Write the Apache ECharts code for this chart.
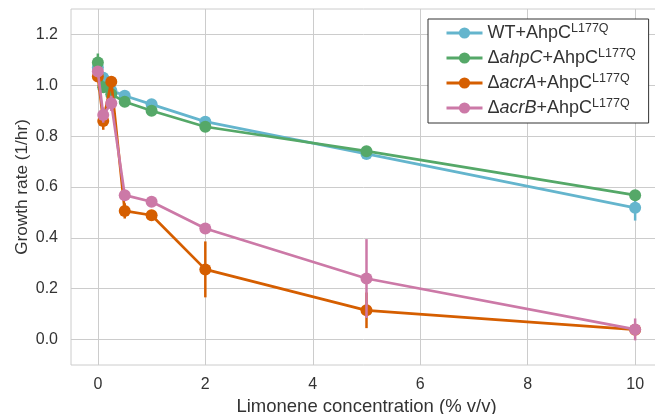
<!DOCTYPE html>
<html>
<head>
<meta charset="utf-8">
<script src="https://cdn.jsdelivr.net/npm/echarts@6/dist/echarts.min.js"></script>
<style>
  html, body { margin: 0; padding: 0; background: #fff; }
  #chart { width: 655px; height: 414px; }
</style>
</head>
<body>
<div id="chart"></div>
<script>
// limonene concentration (% v/v)
const concentrations = [0, 0.1, 0.25, 0.5, 1, 2, 5, 10];

// growth rate (1/hr) and error bars for each strain
const wtRate   = [1.07, 1.03, 0.98, 0.959, 0.925, 0.857, 0.73, 0.518];
const wtErr    = [0.02, 0.02, 0.02, 0.015, 0.015, 0.015, 0.02, 0.05];
const ahpCRate = [1.09, 0.992, 0.965, 0.935, 0.9, 0.837, 0.741, 0.568];
const ahpCErr  = [0.035, 0.02, 0.02, 0.015, 0.015, 0.015, 0.02, 0.02];
const acrARate = [1.035, 0.86, 1.014, 0.506, 0.489, 0.276, 0.115, 0.039];
const acrAErr  = [0.02, 0.035, 0.02, 0.03, 0.02, 0.11, 0.07, 0.02];
const acrBRate = [1.054, 0.883, 0.929, 0.568, 0.542, 0.437, 0.24, 0.04];
const acrBErr  = [0.02, 0.03, 0.03, 0.02, 0.02, 0.015, 0.155, 0.043];

const strainNames = ['WT', 'ahpC', 'acrA', 'acrB'];
const strainColors = ['#64b5cd', '#55a868', '#d55e00', '#cc79a7'];
const legendLabels = {
  WT: '{n|WT+AhpC}{s|L177Q}',
  ahpC: '{n|Δ}{i|ahpC}{n|+AhpC}{s|L177Q}',
  acrA: '{n|Δ}{i|acrA}{n|+AhpC}{s|L177Q}',
  acrB: '{n|Δ}{i|acrB}{n|+AhpC}{s|L177Q}'
};

const rates = [wtRate, ahpCRate, acrARate, acrBRate];
const errs = [wtErr, ahpCErr, acrAErr, acrBErr];

const font = 'Liberation Sans, Arial, sans-serif';
const grey = '#cccccc';
const none = 'rgba(0,0,0,0)';

let chart = echarts.init(document.getElementById('chart'));

const series = [];
strainNames.forEach((name, k) => {
  series.push({
    type: 'line',
    name: name,
    z: 3 + k * 2,
    data: concentrations.map((c, i) => [c, rates[k][i]]),
    symbol: 'circle',
    symbolSize: 12,
    showAllSymbol: true,
    lineStyle: {width: 2.7, color: strainColors[k]},
    itemStyle: {color: strainColors[k]},
    emphasis: {disabled: true}
  });
  // error bars
  series.push({
    type: 'custom',
    name: name + ' err',
    z: 2 + k * 2,
    silent: true,
    data: concentrations.map((c, i) => [c, rates[k][i], errs[k][i]]),
    renderItem: function (params, api) {
      const x = api.value(0), y = api.value(1), e = api.value(2);
      const p1 = api.coord([x, y - e]);
      const p2 = api.coord([x, y + e]);
      return {
        type: 'line',
        shape: {x1: p1[0], y1: p1[1], x2: p2[0], y2: p2[1]},
        style: {stroke: strainColors[k], lineWidth: 2.5}
      };
    }
  });
});

const option = {
  animation: false,
  color: strainColors,
  grid: {
    left: 71, top: 9, width: 591, height: 356,
    outerBoundsMode: 'none',
    containLabel: false,
    show: true, borderColor: grey, borderWidth: 1, backgroundColor: '#fff'
  },
  xAxis: {
    type: 'value',
    min: -0.5, max: 10.5, interval: 0.5,
    name: 'Limonene concentration (% v/v)',
    nameLocation: 'middle',
    nameGap: 31,
    nameTextStyle: {fontFamily: font, fontSize: 18.5, color: '#333'},
    axisLine: {show: false},
    axisTick: {show: false},
    axisLabel: {
      fontFamily: font, fontSize: 16, color: '#333', margin: 12,
      formatter: function (v) {
        const r = Math.round(v * 2);
        return r % 4 === 0 ? String(r / 2) : '';
      }
    },
    splitLine: {show: true, lineStyle: {color: [none, grey, none, none], width: 1}}
  },
  yAxis: {
    type: 'value',
    min: -0.1, max: 1.3, interval: 0.1,
    name: 'Growth rate (1/hr)',
    nameLocation: 'middle',
    nameGap: 40,
    nameMoveOverlap: false,
    nameTextStyle: {fontFamily: font, fontSize: 17.2, color: '#333'},
    axisLine: {show: false},
    axisTick: {show: false},
    axisLabel: {
      fontFamily: font, fontSize: 16, color: '#333', margin: 13,
      formatter: function (v) {
        const r = Math.round(v * 10);
        return r % 2 === 0 ? (r / 10).toFixed(1) : '';
      }
    },
    splitLine: {show: true, lineStyle: {color: [none, grey], width: 1}}
  },
  legend: {
    orient: 'vertical',
    left: 428, top: 19,
    data: strainNames,
    backgroundColor: '#fff',
    borderColor: '#333',
    borderWidth: 1,
    borderRadius: 0,
    padding: [3, 13, 6, 17],
    itemWidth: 36, itemHeight: 14, itemGap: 5,
    lineStyle: {width: 3},
    formatter: name => legendLabels[name],
    textStyle: {
      fontFamily: font, fontSize: 18, color: '#333',
      rich: {
        n: {fontFamily: font, fontSize: 18, color: '#333', lineHeight: 22},
        i: {fontFamily: font, fontSize: 18, color: '#333', fontStyle: 'italic', lineHeight: 22},
        s: {fontFamily: font, fontSize: 12.5, color: '#333', verticalAlign: 'top', lineHeight: 22}
      }
    }
  },
  series: series
};

chart.setOption(option);
</script>
</body>
</html>
